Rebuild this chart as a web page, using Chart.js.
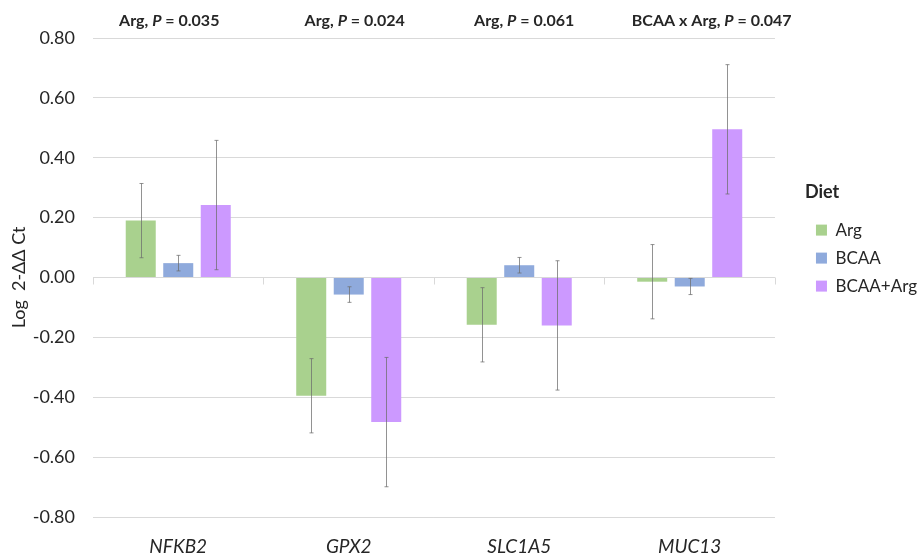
<!DOCTYPE html>
<html>
<head>
<meta charset="utf-8">
<script src="https://cdn.jsdelivr.net/npm/chart.js@4.4.0/dist/chart.umd.min.js"></script>
<style>
  html, body { margin: 0; padding: 0; background: #ffffff; }
  #wrap { width: 919px; height: 557px; }
</style>
</head>
<body>
<div id="wrap"><canvas id="myChart" width="919" height="557"></canvas></div>
<script>
// genes on the x axis
const genes = ['NFKB2', 'GPX2', 'SLC1A5', 'MUC13'];

// diet groups
const diets = ['Arg', 'BCAA', 'BCAA+Arg'];
const dietColors = ['#a9d18e', '#8faadc', '#cc99ff'];

// log 2-ddCt means per diet
const argValues = [0.19, -0.395, -0.158, -0.014];
const bcaaValues = [0.048, -0.057, 0.041, -0.030];
const bcaaArgValues = [0.242, -0.483, -0.160, 0.495];

// SEM per diet
const argErrors = [0.124, 0.124, 0.124, 0.124];
const bcaaErrors = [0.026, 0.026, 0.026, 0.027];
const bcaaArgErrors = [0.216, 0.216, 0.216, 0.216];

// effect labels above each gene
const effectNames = ['Arg', 'Arg', 'Arg', 'BCAA x Arg'];
const pValues = ['0.035', '0.024', '0.061', '0.047'];

// y axis ticks
const yTicks = [-0.8, -0.6, -0.4, -0.2, 0, 0.2, 0.4, 0.6, 0.8];

const FONT = "Lato, 'Open Sans', sans-serif";
const TEXT = '#262626';

const seriesValues = [argValues, bcaaValues, bcaaArgValues];
const seriesErrors = [argErrors, bcaaErrors, bcaaArgErrors];

// draws error bars, the small ticks on the zero line and the P labels
const extras = {
    id: 'extras',
    afterDatasetsDraw(chart, args, opts) {
        const ctx = chart.ctx;
        const y = chart.scales.y;
        const x = chart.scales.x;
        ctx.save();

        // ticks under the zero line at category edges
        const zero = y.getPixelForValue(0);
        const step = x.width / genes.length;
        ctx.strokeStyle = '#d9d9d9';
        ctx.lineWidth = 1;
        for (var i = 0; i <= genes.length; i++) {
            const px = Math.round(x.left + i * step) + 0.5;
            ctx.beginPath();
            ctx.moveTo(px, zero);
            ctx.lineTo(px, zero + 7);
            ctx.stroke();
        }

        // error bars
        ctx.strokeStyle = 'rgba(110,110,110,0.75)';
        ctx.lineWidth = 1;
        for (var d = 0; d < seriesValues.length; d++) {
            const meta = chart.getDatasetMeta(d);
            meta.data.forEach(function (bar, j) {
                const v = seriesValues[d][j];
                const e = seriesErrors[d][j];
                const cx = Math.round(bar.x) + 0.5;
                const top = y.getPixelForValue(v + e);
                const bot = y.getPixelForValue(v - e);
                ctx.beginPath();
                ctx.moveTo(cx, top);
                ctx.lineTo(cx, bot);
                ctx.moveTo(cx - 2, top);
                ctx.lineTo(cx + 2, top);
                ctx.moveTo(cx - 2, bot);
                ctx.lineTo(cx + 2, bot);
                ctx.stroke();
            });
        }

        // P labels
        ctx.fillStyle = TEXT;
        ctx.textBaseline = 'middle';
        ctx.textAlign = 'left';
        const bold = 'bold 16px ' + FONT;
        const boldIt = 'italic bold 16px ' + FONT;
        for (var k = 0; k < genes.length; k++) {
            const parts = [
                [effectNames[k] + ', ', bold],
                ['P', boldIt],
                [' = ' + pValues[k], bold]
            ];
            var w = 0;
            parts.forEach(function (p) { ctx.font = p[1]; w += ctx.measureText(p[0]).width; });
            var px = x.getPixelForValue(k) + opts.dx[k] - w / 2;
            parts.forEach(function (p) {
                ctx.font = p[1];
                ctx.fillText(p[0], px, opts.y);
                px += ctx.measureText(p[0]).width;
            });
        }
        ctx.restore();
    }
};

new Chart(document.getElementById('myChart'), {
    type: 'bar',
    data: {
        labels: genes,
        datasets: diets.map(function (name, i) {
            return {
                label: name,
                data: seriesValues[i],
                backgroundColor: dietColors[i],
                borderWidth: 0,
                categoryPercentage: 0.66,
                barPercentage: 0.8
            };
        })
    },
    options: {
        responsive: false,
        animation: false,
        devicePixelRatio: 1,
        layout: {
            padding: { top: 38, left: 0, right: -8, bottom: 0 }
        },
        scales: {
            x: {
                afterFit: function (s) { s.height = 40; },
                grid: { display: false, drawTicks: false },
                border: { display: false },
                ticks: {
                    padding: 18,
                    color: TEXT,
                    font: { family: FONT, size: 19, style: 'italic' }
                }
            },
            y: {
                min: -0.8,
                max: 0.8,
                afterFit: function (s) { s.width = 93; },
                afterBuildTicks: function (s) {
                    s.ticks = yTicks.map(function (v) { return { value: v }; });
                },
                grid: { color: '#d9d9d9', lineWidth: 1, drawTicks: false },
                border: { display: false },
                ticks: {
                    padding: 18,
                    color: TEXT,
                    font: { family: FONT, size: 18 },
                    callback: function (v) { return Number(v).toFixed(2); }
                },
                title: {
                    display: true,
                    text: 'Log  2-ΔΔ Ct',
                    color: TEXT,
                    font: { family: FONT, size: 18 },
                    padding: { top: 8, bottom: 0 }
                }
            },
            gap: {
                type: 'linear',
                position: 'right',
                display: true,
                afterFit: function (s) { s.width = 30; },
                grid: { display: false, drawTicks: false },
                border: { display: false },
                ticks: { display: false }
            }
        },
        plugins: {
            legend: {
                position: 'right',
                align: 'start',
                title: {
                    display: true,
                    text: 'Diet',
                    position: 'start',
                    color: TEXT,
                    font: { family: FONT, size: 18, weight: 'bold' },
                    padding: { top: 145, bottom: 6 }
                },
                labels: {
                    boxWidth: 11,
                    boxHeight: 11,
                    padding: 11,
                    color: TEXT,
                    font: { family: FONT, size: 17 }
                }
            },
            tooltip: { enabled: false },
            extras: {
                y: 21,
                dx: [-9, 6, 5, 22]
            }
        }
    },
    plugins: [extras]
});
</script>
</body>
</html>
